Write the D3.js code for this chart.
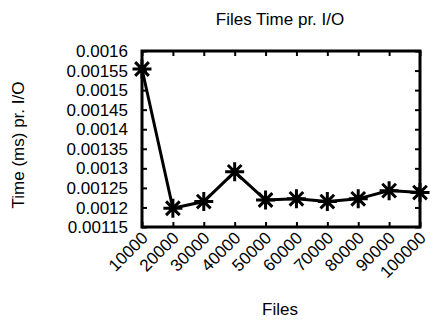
<!DOCTYPE html>
<html>
<head>
<meta charset="utf-8">
<script src="https://cdn.jsdelivr.net/npm/d3@7"></script>
<style>
  body { margin: 0; background: #fff; }
  text { font-family: "Liberation Sans", Arial, sans-serif; fill: #000; }
</style>
</head>
<body>
<div id="chart"></div>
<script>
var files = [10000, 20000, 30000, 40000, 50000, 60000, 70000, 80000, 90000, 100000];
var timePerIO = [0.001554, 0.001198, 0.001215, 0.001291, 0.001219, 0.001222, 0.001215, 0.001222, 0.001243, 0.001238];
var yTicks = [0.00115, 0.0012, 0.00125, 0.0013, 0.00135, 0.0014, 0.00145, 0.0015, 0.00155, 0.0016];

var W = 432, H = 320;
var margin = {left: 142, right: 12, top: 51, bottom: 93};
var width = W - margin.left - margin.right;
var height = H - margin.top - margin.bottom;
var fs = "17px";

var svg = d3.select("#chart").append("svg")
  .attr("width", W)
  .attr("height", H);

var g = svg.append("g")
  .attr("transform", "translate(" + margin.left + "," + margin.top + ")");

var x = d3.scaleLinear().domain([10000, 100000]).range([0, width]);
var y = d3.scaleLinear().domain([0.00115, 0.0016]).range([height, 0]);

// ticks (gnuplot style: inward, mirrored)
var xAxisB = d3.axisBottom(x).tickValues(files).tickSizeInner(-5).tickSizeOuter(0).tickFormat("");
var xAxisT = d3.axisTop(x).tickValues(files).tickSizeInner(-5).tickSizeOuter(0).tickFormat("");
var yAxisL = d3.axisLeft(y).tickValues(yTicks).tickSizeInner(-5).tickSizeOuter(0).tickFormat("");
var yAxisR = d3.axisRight(y).tickValues(yTicks).tickSizeInner(-5).tickSizeOuter(0).tickFormat("");

g.append("g").attr("transform", "translate(0," + height + ")").call(xAxisB);
g.append("g").call(xAxisT);
g.append("g").call(yAxisL);
g.append("g").attr("transform", "translate(" + width + ",0)").call(yAxisR);
g.selectAll(".domain").remove();
g.selectAll(".tick line").attr("stroke", "#000").attr("stroke-width", 2);

// border
g.append("rect")
  .attr("width", width).attr("height", height)
  .attr("fill", "none").attr("stroke", "#000").attr("stroke-width", 3);

// y tick labels
g.selectAll(".ylab").data(yTicks).enter().append("text")
  .attr("class", "ylab")
  .attr("x", -14)
  .attr("y", function(d) { return y(d); })
  .attr("dy", "0.36em")
  .attr("text-anchor", "end")
  .attr("font-size", fs)
  .text(function(d) { return +d.toPrecision(6); });

// x tick labels
g.selectAll(".xlab").data(files).enter().append("text")
  .attr("class", "xlab")
  .attr("text-anchor", "end")
  .attr("font-size", fs)
  .attr("transform", function(d) { return "translate(" + (x(d) + 7) + "," + (height + 12) + ") rotate(-45)"; })
  .text(function(d) { return d; });

// line
var line = d3.line()
  .x(function(d, i) { return x(files[i]); })
  .y(function(d) { return y(d); });

g.append("path")
  .datum(timePerIO)
  .attr("d", line)
  .attr("fill", "none")
  .attr("stroke", "#000")
  .attr("stroke-width", 3);

// star markers
var s = 9.5;
var k = s * 0.72;
g.selectAll(".pt").data(timePerIO).enter().append("path")
  .attr("class", "pt")
  .attr("transform", function(d, i) { return "translate(" + x(files[i]) + "," + y(d) + ")"; })
  .attr("d", "M" + (-s) + ",0H" + s + "M0," + (-s) + "V" + s +
             "M" + (-k) + "," + (-k) + "L" + k + "," + k +
             "M" + (-k) + "," + k + "L" + k + "," + (-k))
  .attr("stroke", "#000")
  .attr("stroke-width", 3)
  .attr("fill", "none");

// titles
svg.append("text")
  .attr("x", 280).attr("y", 25)
  .attr("text-anchor", "middle")
  .attr("font-size", fs)
  .text("Files Time pr. I/O");

svg.append("text")
  .attr("x", 280).attr("y", 315)
  .attr("text-anchor", "middle")
  .attr("font-size", fs)
  .text("Files");

svg.append("text")
  .attr("transform", "translate(24,145) rotate(-90)")
  .attr("text-anchor", "middle")
  .attr("font-size", fs)
  .text("Time (ms) pr. I/O");
</script>
</body>
</html>
